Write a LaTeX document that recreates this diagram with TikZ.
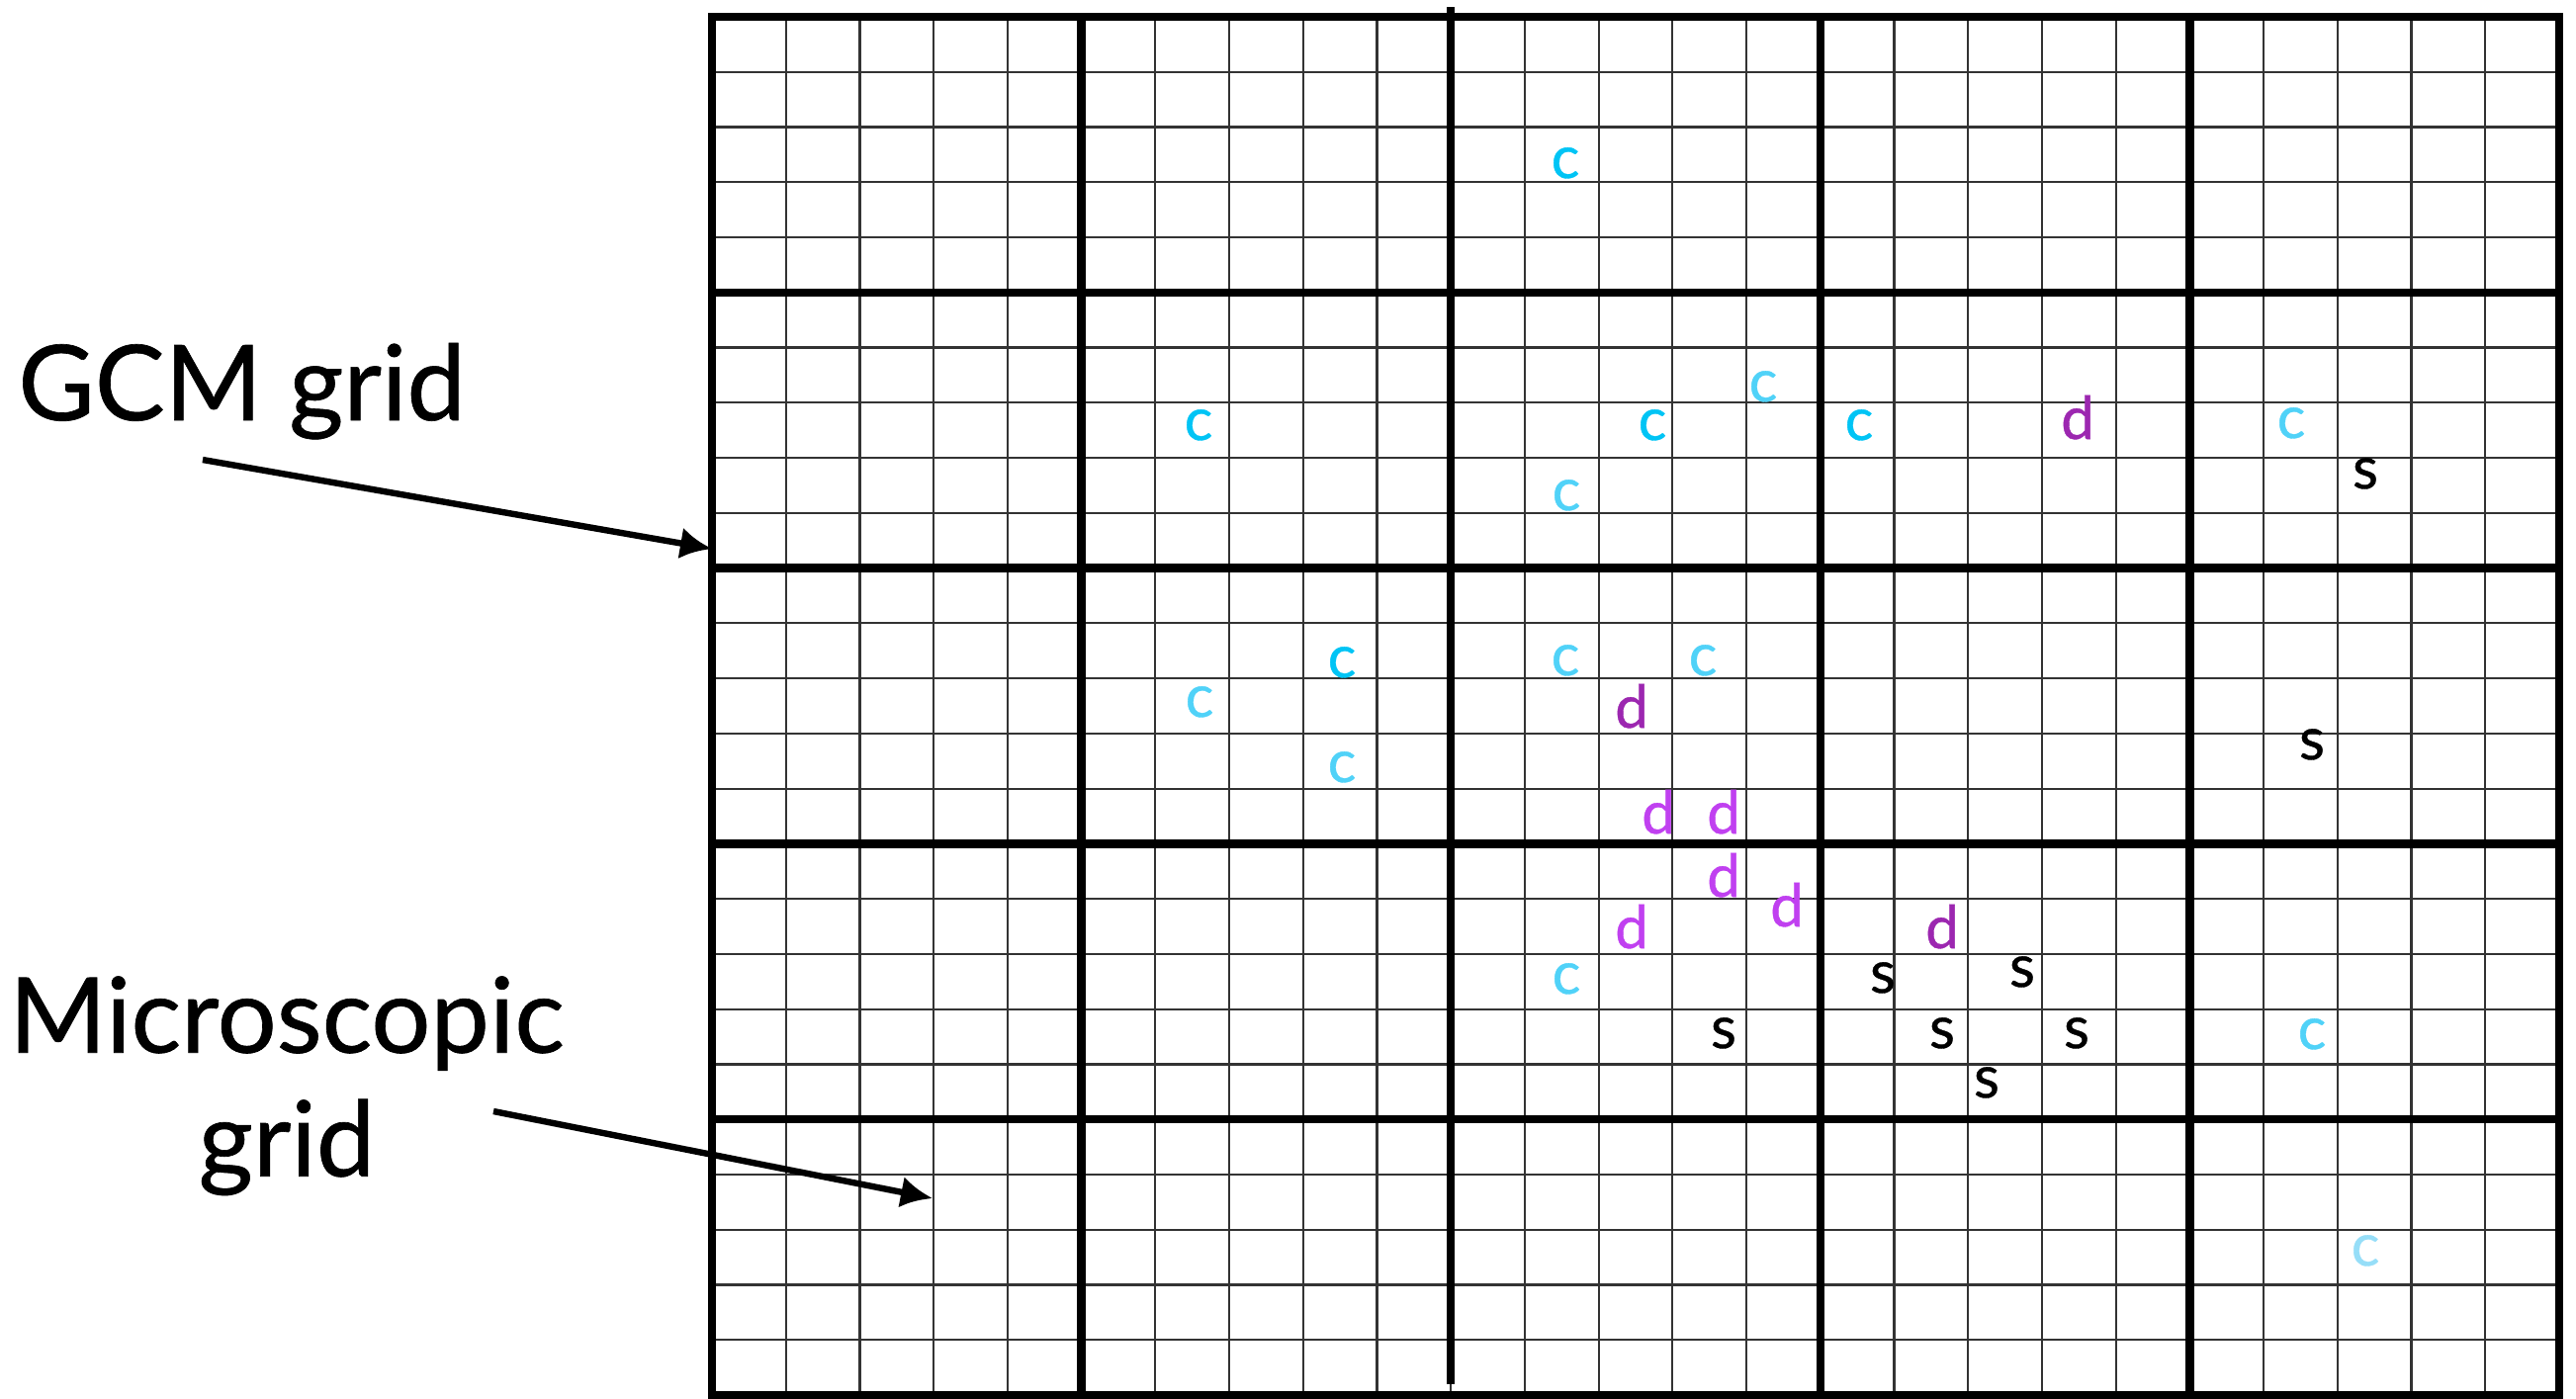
\documentclass[tikz,border=0pt]{standalone}
\usepackage{fontspec}
\setmainfont{Lato}[FakeBold=0.6]
\usetikzlibrary{arrows.meta}
\definecolor{cdeep}{RGB}{0,196,245}
\definecolor{clight}{RGB}{80,210,248}
\definecolor{cpale}{RGB}{150,222,248}
\definecolor{ddeep}{RGB}{156,39,176}
\definecolor{dlight}{RGB}{192,64,240}

\begin{document}
\begin{tikzpicture}[x=0.5pt,y=-0.5pt,
    minor/.style={black!80,line width=1.1pt},
    major/.style={black,line width=4.2pt},
    pointer/.style={-{Latex[length=16pt,width=16pt]},line width=3.2pt},
    lbl/.style={inner sep=0pt,font=\fontsize{53}{62.5}\selectfont},
    tag/.style={inner sep=0pt,anchor=mid,yshift=-4pt,font=\fontsize{30}{36}\selectfont}]
  \useasboundingbox (0,0) rectangle (2605,1414);
  % microscopic grid
  \foreach \i in {1,...,24} {
    \draw[minor] ({720+74.72*\i},17) -- ({720+74.72*\i},1411);
    \draw[minor] (720,{17+55.76*\i}) -- (2588,{17+55.76*\i});
  }
  % GCM grid
  \foreach \i in {0,1,3,4,5}
    \draw[major] ({720+373.6*\i},17) -- ({720+373.6*\i},1411);
  \draw[major] (1467.2,7) -- (1467.2,1400);
  \foreach \j in {0,...,5}
    \draw[major] (716,{17+278.8*\j}) -- (2592,{17+278.8*\j});
  % c, d and s cells
  \foreach \x/\y [count=\n] in {1583/167,1212/432,1671/432,1880/432,1357/672}
    \node[tag,cdeep] (cdeep\n) at (\x,\y) {c};
  \foreach \x/\y [count=\n] in {1783/393,2317/430,1584/503,1213/712,1357/778,
      1583/670,1722/670,1584/992,2338/1048}
    \node[tag,clight] (clight\n) at (\x,\y) {c};
  \node[tag,cpale] (cpale1) at (2392,1267) {c};
  \foreach \x/\y [count=\n] in {2101/431,1650/723,1964/946}
    \node[tag,ddeep] (ddeep\n) at (\x,\y) {d};
  \foreach \x/\y [count=\n] in {1677/830,1743/830,1743/894,1807/924,1650/946}
    \node[tag,dlight] (dlight\n) at (\x,\y) {d};
  \foreach \x/\y [count=\n] in {2392/481,2338/755,1904/991,2045/985,
      1743/1047,1964/1047,2100/1047,2009/1097}
    \node[tag] (s\n) at (\x,\y) {s};
  % labels
  \node[lbl,anchor=base west] (gcm) at (18,425) {GCM grid};
  \node[lbl,align=center,anchor=north] (micro) at (290,987) {Microscopic\\grid};
  \coordinate (gcmtail) at (205,465);
  \coordinate (gcmtip) at (720,555);
  \draw[pointer] (gcmtail) -- (gcmtip);
  \coordinate (microtail) at (499,1124);
  \coordinate (microtip) at (943,1212);
  \draw[pointer] (microtail) -- (microtip);
\end{tikzpicture}
\end{document}
